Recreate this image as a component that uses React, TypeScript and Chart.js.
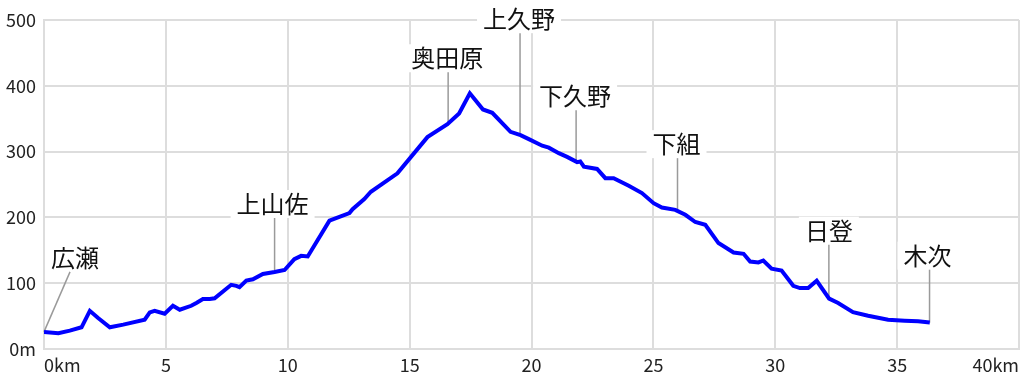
import React, { useEffect, useRef } from "react";
import { Chart, registerables } from "chart.js";

Chart.register(...registerables);

// Elevation profile (distance in km, elevation in m)
const profileKm = [
  0, 0.59, 1.06, 1.54, 1.88, 2.22, 2.7, 3.25, 4.13, 4.34, 4.54, 4.95, 5.29, 5.57,
  6.04, 6.25, 6.52, 6.8, 7.0, 7.68, 7.89, 8.02, 8.3, 8.57, 8.98, 9.46, 9.87, 10.27,
  10.55, 10.82, 11.71, 12.53, 12.66, 13.14, 13.41, 14.5, 15.73, 16.55, 17.03, 17.47,
  18.01, 18.39, 19.14, 19.55, 19.89, 20.44, 20.71, 21.12, 21.46, 21.87, 22.0, 22.15,
  22.35, 22.69, 23.03, 23.37, 23.99, 24.53, 25.01, 25.35, 25.9, 26.31, 26.72, 27.13,
  27.67, 28.29, 28.7, 28.97, 29.31, 29.51, 29.85, 30.26, 30.74, 31.01, 31.35, 31.7,
  32.21, 32.58, 33.19, 33.81, 34.63, 35.31, 35.86, 36.34,
];
const profileElev = [
  26, 24, 28, 33, 58, 47, 33, 37, 44.5, 55.6, 58, 53.6, 65.7, 59.7,
  65.7, 70, 76, 76, 77, 97.6, 96, 94, 104, 106, 114, 117, 120, 136.6,
  141.6, 140.6, 195, 206.5, 212.5, 228, 239, 267, 322, 341.6, 358, 388.6,
  364, 359, 330, 325, 319, 309, 306, 297.6, 292, 284, 285, 277,
  275.7, 273.7, 259.6, 259.6, 248, 237, 221.6, 215, 211.5, 204, 193, 188.7,
  161, 146.7, 144.7, 133, 131.5, 134.5, 122, 119.3, 96, 92.6, 92.6, 103.7,
  76.5, 69.8, 56, 50.5, 44.5, 43, 42, 40.4,
];

// Stations
const stationNames = ["広瀬", "上山佐", "奥田原", "上久野", "下久野", "下組", "日登", "木次"];
const stationKm = [0, 9.46, 16.58, 19.53, 21.83, 25.99, 32.2, 36.33];
const stationElev = [26, 117, 340, 328, 284, 211, 78, 40];

// Axis tick values
const xTicks = [0, 5, 10, 15, 20, 25, 30, 35, 40];
const yTicks = [0, 100, 200, 300, 400, 500];

// Label layout (pixels)
const leaderLen = [60, 54, 53, 100, 52, 52, 53, 53];
const leaderDx = [26, 0, 0, 0, 0, 0, 0, 0];
const labelDx = [5, -2, -1, -1, -1, -1, 0, -2];

const FONT = "'Noto Sans CJK JP', 'Noto Sans', sans-serif";
const GRID = "#dddddd";

const stationPlugin = {
  id: "stations",
  beforeDatasetsDraw(chart: any) {
    const ctx = chart.ctx as CanvasRenderingContext2D;
    const xs = chart.scales.x;
    const ys = chart.scales.y;
    ctx.save();
    ctx.font = `24px ${FONT}`;
    ctx.textBaseline = "middle";
    ctx.textAlign = "center";
    stationNames.forEach((name, i) => {
      const px = xs.getPixelForValue(stationKm[i]);
      const py = ys.getPixelForValue(stationElev[i]);
      const tx = px + leaderDx[i];
      const ty = py - leaderLen[i];
      const cx = tx + labelDx[i];
      const cy = ty - 14;
      const w = ctx.measureText(name).width;
      ctx.fillStyle = "#ffffff";
      ctx.fillRect(cx - w / 2 - 6, cy - 14, w + 12, 28);
      ctx.strokeStyle = "#9a9a9a";
      ctx.lineWidth = 1.5;
      ctx.beginPath();
      ctx.moveTo(px, py);
      ctx.lineTo(tx, ty);
      ctx.stroke();
      ctx.fillStyle = "#111111";
      ctx.fillText(name, cx, cy);
    });
    ctx.restore();
  },
};

export default function App() {
  const ref = useRef<HTMLCanvasElement | null>(null);
  useEffect(() => {
    if (!ref.current) return;
    const chart = new Chart(ref.current, {
      type: "line",
      data: {
        datasets: [
          {
            data: profileKm.map((k, i) => ({ x: k, y: profileElev[i] })),
            borderColor: "#0000ff",
            borderWidth: 4,
            pointRadius: 0,
            tension: 0,
            fill: false,
          },
        ],
      },
      options: {
        animation: false,
        responsive: true,
        maintainAspectRatio: false,
        layout: { padding: { top: 20, right: 3, left: 0, bottom: 0 } },
        plugins: { legend: { display: false }, tooltip: { enabled: false } },
        scales: {
          x: {
            type: "linear",
            min: xTicks[0],
            max: xTicks[xTicks.length - 1],
            afterBuildTicks: (s: any) => {
              s.ticks = xTicks.map((v) => ({ value: v }));
            },
            afterFit: (s: any) => {
              s.height = 34;
            },
            grid: { color: GRID, lineWidth: 2, drawTicks: false },
            border: { color: GRID, width: 2 },
            ticks: {
              align: "inner",
              autoSkip: false,
              maxRotation: 0,
              padding: 5,
              color: "#222222",
              font: { family: FONT, size: 18 },
              callback: (v: any) =>
                v === 0 ? "0km" : v === 40 ? "40km" : String(v),
            },
          },
          y: {
            type: "linear",
            min: yTicks[0],
            max: yTicks[yTicks.length - 1],
            afterBuildTicks: (s: any) => {
              s.ticks = yTicks.map((v) => ({ value: v }));
            },
            afterFit: (s: any) => {
              s.width = 44;
            },
            grid: { color: GRID, lineWidth: 2, drawTicks: false },
            border: { color: GRID, width: 2 },
            ticks: {
              padding: 8,
              color: "#222222",
              font: { family: FONT, size: 18 },
              callback: (v: any) => (v === 0 ? "0m" : String(v)),
            },
          },
        },
      },
      plugins: [stationPlugin],
    } as any);
    return () => chart.destroy();
  }, []);
  return (
    <div
      style={{
        position: "fixed",
        left: 0,
        top: 0,
        width: 1024,
        height: 383,
        background: "#ffffff",
      }}
    >
      <canvas ref={ref} />
    </div>
  );
}
